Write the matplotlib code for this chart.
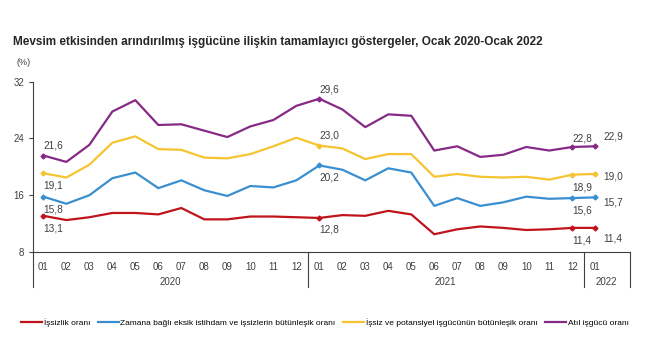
import matplotlib.pyplot as plt
from matplotlib.lines import Line2D
from matplotlib.transforms import blended_transform_factory

plt.rcParams['font.family'] = ['Liberation Sans', 'DejaVu Sans']

months = ['01', '02', '03', '04', '05', '06', '07', '08', '09', '10', '11', '12',
          '01', '02', '03', '04', '05', '06', '07', '08', '09', '10', '11', '12',
          '01']
years = ['2020', '2021', '2022']

issizlik = [13.1, 12.5, 12.9, 13.5, 13.5, 13.3, 14.2, 12.6, 12.6, 13.0, 13.0, 12.9,
            12.8, 13.2, 13.1, 13.8, 13.3, 10.5, 11.2, 11.6, 11.4, 11.1, 11.2, 11.4,
            11.4]
zamana_bagli = [15.8, 14.8, 16.0, 18.4, 19.2, 17.0, 18.1, 16.7, 15.9, 17.3, 17.1, 18.1,
                20.2, 19.6, 18.1, 19.8, 19.2, 14.5, 15.6, 14.5, 15.0, 15.8, 15.5, 15.6,
                15.7]
potansiyel = [19.1, 18.5, 20.3, 23.4, 24.3, 22.5, 22.4, 21.3, 21.2, 21.8, 22.9, 24.1,
              23.0, 22.6, 21.1, 21.8, 21.8, 18.6, 19.0, 18.6, 18.5, 18.6, 18.2, 18.9,
              19.0]
atil = [21.6, 20.7, 23.1, 27.8, 29.4, 25.9, 26.0, 25.1, 24.2, 25.7, 26.6, 28.6,
        29.6, 28.1, 25.6, 27.4, 27.2, 22.3, 22.9, 21.4, 21.7, 22.8, 22.3, 22.8,
        22.9]

labels = ['İşsizlik oranı',
          'Zamana bağlı eksik istihdam ve işsizlerin bütünleşik oranı',
          'İşsiz ve potansiyel işgücünün bütünleşik oranı',
          'Atıl işgücü oranı']
colors = ['#C0141C', '#3A8FD0', '#F5C430', '#862A86']
series = [issizlik, zamana_bagli, potansiyel, atil]
marked = [0, 12, 23, 24]

# label offsets (points) for each marked index, per series
offsets = [
    [(0, -9), (0, -8), (0, -9), (6, -8)],
    [(0, -9), (0, -9), (0, -9), (6, -4)],
    [(0, -9), (0, 7), (0, -9), (6, -2)],
    [(0, 7), (0, 7), (0, 6), (6, 7)],
]

fig = plt.figure(figsize=(6.5, 3.6), dpi=100)
ax = fig.add_axes([0.0508, 0.30, 0.918, 0.473])

x = list(range(len(months)))
for vals, col, lab, offs in zip(series, colors, labels, offsets):
    ax.plot(x, vals, color=col, lw=1.6, marker='D', markersize=2.5,
            markevery=marked)
    for i, (dx, dy) in zip(marked, offs):
        ax.annotate(f'{vals[i]:.1f}'.replace('.', ','), (x[i], vals[i]),
                    xytext=(dx, dy), textcoords='offset points',
                    ha='left', va='center', fontsize=7.3, color='#404040')

ax.set_ylim(8, 32)
ax.set_xlim(-0.45, 25.5)
ax.set_yticks([8, 16, 24, 32])
ax.set_xticks(x)
ax.set_xticklabels(months)
ax.tick_params(axis='x', length=0, pad=7, labelsize=7, colors='#404040')
ax.tick_params(axis='y', length=3, labelsize=7, colors='#404040', width=0.8)
for s in ['top', 'right']:
    ax.spines[s].set_visible(False)
ax.spines['left'].set_color('#404040')
ax.spines['bottom'].set_color('#404040')

# year grouping below the axis
trans = blended_transform_factory(ax.transData, ax.transAxes)
for xs in [-0.45, 11.5, 23.5, 25.5]:
    ax.plot([xs, xs], [0, -0.205], color='#404040', lw=0.8,
            transform=trans, clip_on=False)
for yr, xc in zip(years, [5.5, 17.5, 24.5]):
    ax.text(xc, -0.176, yr, transform=trans, ha='center', va='center',
            fontsize=7, color='#404040')

fig.text(0.02, 0.883, 'Mevsim etkisinden arındırılmış işgücüne ilişkin tamamlayıcı '
         'göstergeler, Ocak 2020-Ocak 2022', fontsize=8.5, fontweight='bold',
         va='center', color='#262626')
fig.text(0.026, 0.826, '(%)', fontsize=6.5, va='center', color='#404040')

handles = [Line2D([], [], color=c, lw=1.6) for c in colors]
fig.legend(handles, labels, loc='center', bbox_to_anchor=(0.5, 1 - 323 / 360),
           ncol=4, frameon=False, fontsize=6, handlelength=2.5,
           columnspacing=0.9, handletextpad=0.2)

fig.savefig('out.png', dpi=100)
